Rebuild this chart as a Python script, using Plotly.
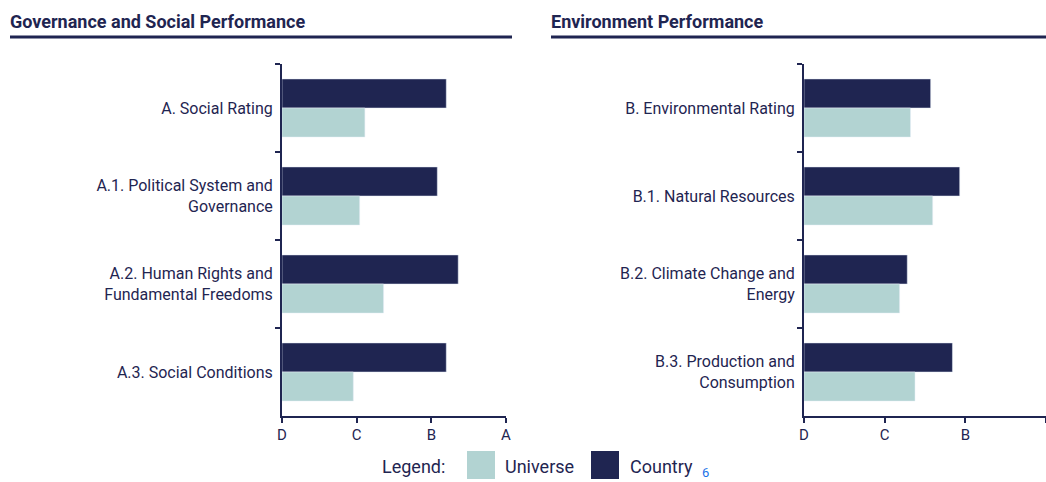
import plotly.graph_objects as go

# ---- data ----
gov_categories = [
    "A. Social Rating",
    "A.1. Political System and<br>Governance",
    "A.2. Human Rights and<br>Fundamental Freedoms",
    "A.3. Social Conditions",
]
gov_country = [2.20, 2.08, 2.36, 2.20]
gov_universe = [1.11, 1.04, 1.36, 0.955]

env_categories = [
    "B. Environmental Rating",
    "B.1. Natural Resources",
    "B.2. Climate Change and<br>Energy",
    "B.3. Production and<br>Consumption",
]
env_country = [1.57, 1.93, 1.28, 1.84]
env_universe = [1.32, 1.595, 1.185, 1.376]

grade_vals = [0, 1, 2, 3]
grade_text = ["D", "C", "B", "A"]

panel_titles = ["Governance and Social Performance", "Environment Performance"]

NAVY = "#1f2551"
TEAL = "#b2d3d2"
FONT = "Roboto"

W, H = 1046, 482

fig = go.Figure()

def add_panel(cats, country, universe, xa, ya):
    fig.add_trace(go.Bar(y=cats, x=country, orientation="h", name="Country",
                         marker=dict(color=NAVY), xaxis=xa, yaxis=ya, showlegend=False))
    fig.add_trace(go.Bar(y=cats, x=universe, orientation="h", name="Universe",
                         marker=dict(color=TEAL), xaxis=xa, yaxis=ya, showlegend=False))

add_panel(gov_categories, gov_country, gov_universe, "x", "y")
add_panel(env_categories, env_country, env_universe, "x2", "y2")

ydom = [1 - 416 / H, 1 - 64 / H]

xcommon = dict(range=[0, 3], tickvals=grade_vals, ticktext=grade_text,
               showline=True, linecolor=NAVY, linewidth=2, ticks="outside",
               ticklen=5, tickwidth=2, tickcolor=NAVY, showgrid=False, zeroline=False,
               tickfont=dict(family=FONT, size=15, color=NAVY), fixedrange=True,
               ticklabelstandoff=-1, automargin=False)
ycommon = dict(type="category", autorange="reversed", showline=True, linecolor=NAVY,
               linewidth=2, ticks="outside", ticklen=5, tickwidth=2, tickcolor=NAVY,
               tickson="boundaries", showgrid=False, domain=ydom, automargin=False,
               tickfont=dict(family=FONT, size=16, color=NAVY), ticklabelstandoff=4,
               fixedrange=True)

fig.update_layout(
    width=W, height=H,
    margin=dict(l=0, r=0, t=0, b=0, autoexpand=False),
    paper_bgcolor="white", plot_bgcolor="white",
    barmode="group", bargap=0.34, bargroupgap=0,
    xaxis=dict(domain=[282 / W, 506 / W], anchor="y", **xcommon),
    yaxis=dict(anchor="x", **ycommon),
    xaxis2=dict(domain=[804 / W, 1.0], anchor="y2", **xcommon),
    yaxis2=dict(anchor="x2", **ycommon),
    font=dict(family=FONT, color=NAVY),
)

# panel titles and underlines
for title, x0, x1 in [(panel_titles[0], 10, 512), (panel_titles[1], 551, 1046)]:
    fig.add_annotation(text="<b>" + title + "</b>", x=(x0 - 2) / W, y=1 - 22 / H, xref="paper", yref="paper",
                       xanchor="left", yanchor="middle", showarrow=False,
                       font=dict(family=FONT, size=18, color=NAVY))
    fig.add_shape(type="line", x0=x0 / W, x1=x1 / W, y0=1 - 37 / H, y1=1 - 37 / H,
                  xref="paper", yref="paper", line=dict(color=NAVY, width=3))

# legend
fig.add_annotation(text="Legend:", x=380 / W, y=1 - 466 / H, xref="paper", yref="paper",
                   xanchor="left", yanchor="middle", showarrow=False,
                   font=dict(family=FONT, size=18, color=NAVY))
for label, color, sx, tx in [("Universe", TEAL, 467, 503), ("Country", NAVY, 591, 628)]:
    fig.add_shape(type="rect", x0=sx / W, x1=(sx + 28) / W, y0=1 - 479 / H, y1=1 - 451 / H,
                  xref="paper", yref="paper", fillcolor=color, line=dict(width=0))
    fig.add_annotation(text=label, x=tx / W, y=1 - 466 / H, xref="paper", yref="paper",
                       xanchor="left", yanchor="middle", showarrow=False,
                       font=dict(family=FONT, size=18, color=NAVY))

fig.add_annotation(text="6", x=700 / W, y=1 - 472 / H, xref="paper", yref="paper",
                   xanchor="left", yanchor="middle", showarrow=False,
                   font=dict(family=FONT, size=13, color="#1a73e8"))

fig.write_html("out.html", config={"displayModeBar": False},
               post_script="document.body.style.margin='0';document.body.style.overflow='hidden';")
